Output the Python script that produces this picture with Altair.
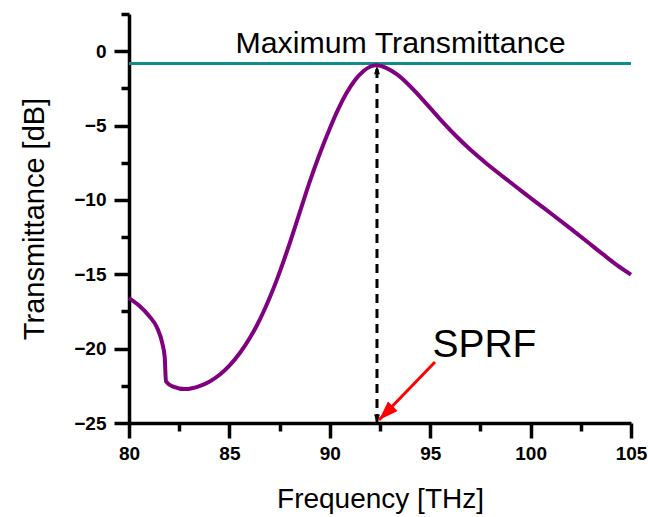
import altair as alt
import pandas as pd

# Curve
freq = [80.0, 80.5, 81.0, 81.4, 81.65, 81.78, 81.84, 82.2, 82.8, 83.54, 84.0,
        84.53, 85.0, 85.53, 86.0, 86.36, 86.7, 87.02, 87.35, 87.69, 88.0, 88.35,
        88.7, 89.01, 89.5, 90.0, 90.42, 90.84, 91.25, 91.67, 92.0, 92.33, 92.8,
        93.33, 93.9, 94.49, 95.05, 95.65, 96.3, 96.98, 97.8, 98.64, 99.47, 100.3,
        101.13, 101.96, 102.79, 103.6, 104.3, 105.0]
trans = [-16.6, -17.1, -17.8, -18.6, -19.6, -20.6, -22.2, -22.55, -22.72, -22.5,
         -22.22, -21.74, -21.15, -20.28, -19.32, -18.46, -17.52, -16.53, -15.41,
         -14.15, -12.93, -11.48, -10.01, -8.74, -6.9, -5.2, -3.9, -2.8, -1.95,
         -1.35, -1.05, -0.95, -1.12, -1.55, -2.22, -3.05, -3.9, -4.8, -5.72, -6.6,
         -7.55, -8.45, -9.32, -10.18, -11.03, -11.9, -12.78, -13.65, -14.38, -15.02]

max_level = -0.83
sprf_freq = 92.35
peak_val = -0.98

x_major = [80, 85, 90, 95, 100, 105]
x_minor = [82.5, 87.5, 92.5, 97.5, 102.5]
y_major = [-25, -20, -15, -10, -5, 0]
y_minor = [-22.5, -17.5, -12.5, -7.5, -2.5, 2.5]

# Annotation anchors (data units)
arrow_start = (95.24, -20.9)
arrow_end = (92.45, -24.8)
label_max = ("Maximum Transmittance", 93.52, -0.1)
label_sprf = ("SPRF", 97.7, -20.56)

FONT = "Liberation Sans"
xs = alt.Scale(domain=[80, 105], nice=False, zero=False)
ys = alt.Scale(domain=[-25, 2.5], nice=False, zero=False)

common = dict(
    tickWidth=3.5, domainWidth=3.5, domainColor="black", tickColor="black",
    labelFont=FONT, labelFontSize=19, labelFontWeight="bold", labelColor="black",
    labelFlush=False, labelOverlap=False,
    titleFont=FONT, titleFontWeight="normal", titleColor="black", grid=False,
)
x_axis = alt.Axis(values=x_major, title="Frequency [THz]", orient="bottom",
                  tickSize=15, labelPadding=6, titleFontSize=28, titlePadding=22,
                  **common)
y_axis = alt.Axis(values=y_major, title="Transmittance [dB]", orient="left",
                  tickSize=15, labelPadding=8, titleFontSize=29, titlePadding=24,
                  **common)
x_minor_axis = alt.Axis(values=x_minor, title="", orient="bottom", labels=False,
                        domain=False, tickSize=8, tickWidth=3.5, tickColor="black",
                        grid=False)
y_minor_axis = alt.Axis(values=y_minor, title="", orient="left", labels=False,
                        domain=False, tickSize=8, tickWidth=3.5, tickColor="black",
                        grid=False)

X = lambda f: alt.X(f, type="quantitative", scale=xs, axis=x_axis)
Y = lambda f: alt.Y(f, type="quantitative", scale=ys, axis=y_axis)

curve_df = pd.DataFrame({"f": freq, "t": trans})
curve = alt.Chart(curve_df).mark_line(
    color="#800080", strokeWidth=4, interpolate="monotone"
).encode(x=X("f"), y=Y("t"))

max_df = pd.DataFrame({"t": [max_level]})
max_line = alt.Chart(max_df).mark_rule(color="#138c8c", strokeWidth=3).encode(
    y=Y("t")
)

dash_df = pd.DataFrame({"f": [sprf_freq], "t1": [-25], "t2": [peak_val]})
dash_line = alt.Chart(dash_df).mark_rule(
    color="black", strokeWidth=3, strokeDash=[9, 6]
).encode(x=X("f"), y=Y("t1"), y2="t2:Q")

head_path = "M0,0 L-0.45,1.3 L0.45,1.3 Z"
heads_df = pd.DataFrame({
    "f": [sprf_freq, sprf_freq],
    "t": [peak_val, -25],
    "ang": [0, 180],
})
dash_heads = alt.Chart(heads_df).mark_point(
    shape=head_path, filled=True, color="black", size=170, opacity=1
).encode(x=X("f"), y=Y("t"), angle=alt.Angle("ang:Q", scale=None))

red_df = pd.DataFrame({
    "f1": [arrow_start[0]], "t1": [arrow_start[1]],
    "f2": [arrow_end[0]], "t2": [arrow_end[1]],
})
red_line = alt.Chart(red_df).mark_rule(color="#ff0000", strokeWidth=3).encode(
    x=X("f1"), y=Y("t1"), x2="f2:Q", y2="t2:Q",
)
red_head_df = pd.DataFrame({"f": [arrow_end[0]], "t": [arrow_end[1]], "ang": [225]})
red_head = alt.Chart(red_head_df).mark_point(
    shape=head_path, filled=True, color="#ff0000", size=900, opacity=1
).encode(x=X("f"), y=Y("t"), angle=alt.Angle("ang:Q", scale=None))

text_df = pd.DataFrame({
    "txt": [label_max[0], label_sprf[0]],
    "f": [label_max[1], label_sprf[1]],
    "t": [label_max[2], label_sprf[2]],
    "size": [30.3, 39],
})
texts = alt.Chart(text_df).mark_text(
    font=FONT, color="black", baseline="alphabetic", align="center"
).encode(
    x=X("f"), y=Y("t"), text="txt:N",
    size=alt.Size("size:Q", scale=None, legend=None),
)

main = alt.layer(max_line, dash_line, dash_heads, curve, red_line, red_head, texts)

minor_df = pd.DataFrame({"f": [80.0], "t": [-25.0]})
minor = alt.Chart(minor_df).mark_point(opacity=0).encode(
    x=alt.X("f:Q", scale=xs, axis=x_minor_axis),
    y=alt.Y("t:Q", scale=ys, axis=y_minor_axis),
)

chart = alt.layer(minor, main).resolve_axis(
    x="independent", y="independent"
).properties(
    width=502, height=409,
    padding={"left": 129, "top": 14, "right": 17, "bottom": 94},
    autosize="none",
    background="white",
).configure_view(stroke=None).configure_axis(
    domainWidth=3.5, tickWidth=3.5, domainColor="black", tickColor="black"
)

chart.save("out.html", embed_options={"renderer": "svg", "actions": False})
